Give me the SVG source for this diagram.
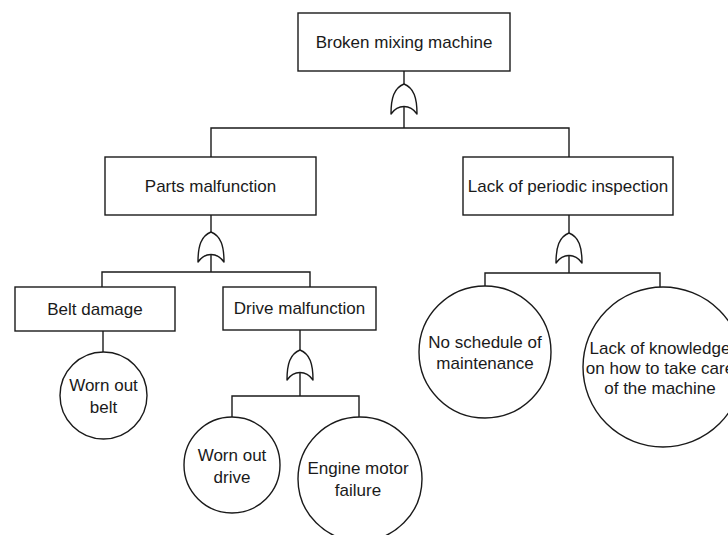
<svg xmlns="http://www.w3.org/2000/svg" width="728" height="535" viewBox="0 0 728 535">
  <style>
    .box { fill: #ffffff; stroke: #1a1a1a; stroke-width: 1.4; }
    .ev { fill: #ffffff; stroke: #1a1a1a; stroke-width: 1.4; }
    .gate { fill: #ffffff; stroke: #1a1a1a; stroke-width: 1.4; stroke-linejoin: round; }
    .wire { fill: none; stroke: #1a1a1a; stroke-width: 1.4; }
    text { font-family: "Liberation Sans", Arial, sans-serif; font-size: 17px; fill: #1a1a1a; text-anchor: middle; dominant-baseline: central; }
  </style>
  <defs>
    <!-- OR gate, origin at the top tip -->
    <path id="orGate" class="gate" d="M -13,30 C -13,14 -10,4 0,0 C 10,4 13,14 13,30 C 6,20 -6,20 -13,30 Z"/>
  </defs>

  <!-- connectors -->
  <g id="connectors">
    <path class="wire" d="M 404,71 V 84 M 404,106.5 V 128 M 211,157 V 128 H 569 V 157"/>
    <path class="wire" d="M 211,215 V 232 M 211,254.5 V 272 M 102,287 V 272 H 310 V 287"/>
    <path class="wire" d="M 569,215 V 233 M 569,255.5 V 273 M 485,286 V 273 H 660 V 287"/>
    <path class="wire" d="M 103,331 V 352"/>
    <path class="wire" d="M 300,330 V 350 M 300,372.5 V 396 M 232,417 V 396 H 359 V 417"/>
  </g>

  <!-- gates -->
  <g id="gates">
    <use href="#orGate" x="404" y="84"/>
    <use href="#orGate" x="211" y="232"/>
    <use href="#orGate" x="569" y="233"/>
    <use href="#orGate" x="300" y="350"/>
  </g>

  <g id="broken-mixing-machine">
    <rect class="box" x="298" y="13" width="212" height="58"/>
    <text x="404" y="42">Broken mixing machine</text>
  </g>

  <g id="parts-malfunction">
    <rect class="box" x="105" y="157" width="211" height="58"/>
    <text x="210.5" y="186">Parts malfunction</text>
  </g>

  <g id="lack-of-periodic-inspection">
    <rect class="box" x="463" y="157" width="210" height="58"/>
    <text x="568" y="186">Lack of periodic inspection</text>
  </g>

  <g id="belt-damage">
    <rect class="box" x="15" y="287" width="160" height="44"/>
    <text x="95" y="309">Belt damage</text>
  </g>

  <g id="drive-malfunction">
    <rect class="box" x="223" y="287" width="153" height="43"/>
    <text x="299.5" y="308.5">Drive malfunction</text>
  </g>

  <g id="worn-out-belt">
    <circle class="ev" cx="103.5" cy="395.5" r="43.5"/>
    <text x="103.5" y="385">Worn out</text>
    <text x="103.5" y="407">belt</text>
  </g>

  <g id="worn-out-drive">
    <circle class="ev" cx="232" cy="465" r="48"/>
    <text x="232" y="455">Worn out</text>
    <text x="232" y="477">drive</text>
  </g>

  <g id="engine-motor-failure">
    <circle class="ev" cx="360" cy="479" r="62"/>
    <text x="358" y="468">Engine motor</text>
    <text x="358" y="490">failure</text>
  </g>

  <g id="no-schedule-of-maintenance">
    <circle class="ev" cx="485" cy="352" r="66"/>
    <text x="485" y="342">No schedule of</text>
    <text x="485" y="363">maintenance</text>
  </g>

  <g id="lack-of-knowledge">
    <circle class="ev" cx="663" cy="367" r="80"/>
    <text x="660" y="348">Lack of knowledge</text>
    <text x="660" y="368">on how to take care</text>
    <text x="660" y="388">of the machine</text>
  </g>
</svg>
